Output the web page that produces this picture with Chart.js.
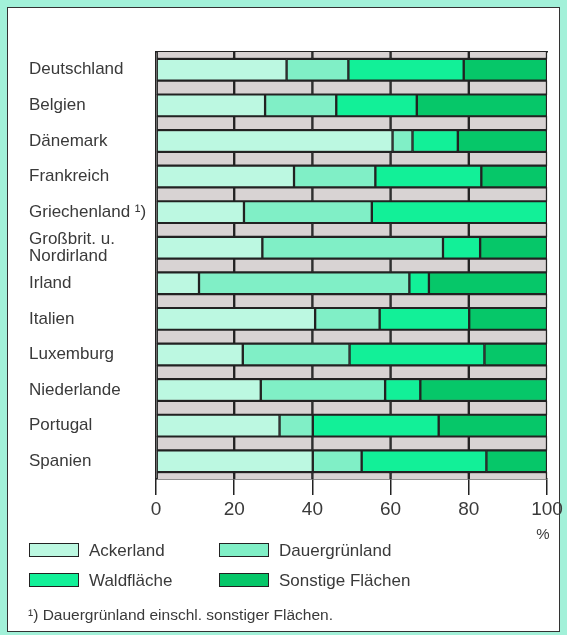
<!DOCTYPE html>
<html>
<head>
<meta charset="utf-8">
<script src="https://cdn.jsdelivr.net/npm/chart.js@4.4.1/dist/chart.umd.min.js"></script>
<style>
    body {
        margin: 0;
        width: 567px;
        height: 635px;
        overflow: hidden;
        background: #a2f1d9;
        font-family: "Liberation Sans", Arial, sans-serif;
        color: #3a3a3a;
    }
    #panel {
        position: absolute;
        left: 7px;
        top: 7px;
        width: 551px;
        height: 623px;
        background: #fff;
        border: 1.5px solid #333;
    }
    #wrap {
        position: absolute;
        left: 0;
        top: 0;
        width: 567px;
        height: 635px;
    }
    .item {
        position: absolute;
        font-size: 17px;
        line-height: 16px;
        white-space: nowrap;
    }
    .item span {
        position: absolute;
        left: 0;
        top: 0;
        width: 48px;
        height: 12px;
        border: 1.5px solid #222;
    }
    .item b {
        position: absolute;
        left: 60px;
        top: 0;
        font-weight: normal;
    }
    #note {
        position: absolute;
        left: 28px;
        top: 606px;
        font-size: 15.5px;
        white-space: nowrap;
    }
</style>
</head>
<body>
<div id="panel"></div>
<div id="wrap"><canvas id="landChart"></canvas></div>
<div id="legend"></div>
<div id="note">¹) Dauergrünland einschl. sonstiger Flächen.</div>
<script>
const countries = ['Deutschland', 'Belgien', 'Dänemark', 'Frankreich', 'Griechenland ¹)',
    ['Großbrit. u.', 'Nordirland'], 'Irland', 'Italien', 'Luxemburg', 'Niederlande', 'Portugal', 'Spanien'];
const ackerland = [33.4, 27.9, 60.5, 35.3, 22.5, 27.2, 11.0, 40.7, 22.2, 26.8, 31.6, 40.1];
const dauergruenland = [15.8, 18.2, 5.1, 20.8, 32.7, 46.2, 53.8, 16.5, 27.3, 31.8, 8.5, 12.5];
const waldflaeche = [29.5, 20.6, 11.6, 27.1, 44.8, 9.5, 5.0, 22.9, 34.5, 9.0, 32.2, 31.9];
const sonstige = [21.3, 33.3, 22.8, 16.8, 0, 17.1, 30.2, 19.9, 16.0, 32.4, 27.7, 15.5];
const seriesNames = ['Ackerland', 'Dauergrünland', 'Waldfläche', 'Sonstige Flächen'];
const seriesColors = ['#bcf8e1', '#80efc6', '#12f098', '#06c769'];
const xTicks = [0, 20, 40, 60, 80, 100];
// grey strips between the rows, cut in steps of 20
const stripSegments = [20, 20, 20, 20, 20];
const stripRows = countries.map((c, i) => i).concat([countries.length]);

document.addEventListener('DOMContentLoaded', function() {
    createLandChart();
    createLegend();
});

function createLandChart() {
    const ctx = document.getElementById('landChart').getContext('2d');
    const values = [ackerland, dauergruenland, waldflaeche, sonstige];

    const stripSets = stripSegments.map(function(seg) {
        return {
            data: stripRows.map(() => seg),
            yAxisID: 'y2',
            xAxisID: 'x',
            grouped: false,
            backgroundColor: '#d8d3d3',
            borderColor: '#222',
            borderWidth: 1.5,
            borderSkipped: false,
            barThickness: 14,
            clip: { left: 3, right: 3, top: 0, bottom: 0 }
        };
    });

    const landSets = values.map(function(vals, i) {
        return {
            label: seriesNames[i],
            data: vals,
            yAxisID: 'y',
            xAxisID: 'x',
            grouped: false,
            backgroundColor: seriesColors[i],
            borderColor: '#222',
            borderWidth: 1.5,
            borderSkipped: false,
            barThickness: 22
        };
    });

    const percentSign = {
        id: 'percentSign',
        afterDraw(chart) {
            const x = chart.scales.x;
            const c = chart.ctx;
            c.save();
            c.font = '15px "Liberation Sans", Arial, sans-serif';
            c.fillStyle = '#3a3a3a';
            c.textAlign = 'center';
            c.textBaseline = 'middle';
            c.fillText('%', x.getPixelForValue(100) - 4, x.top + 56);
            c.restore();
        }
    };

    new Chart(ctx, {
        type: 'bar',
        data: {
            labels: countries,
            datasets: stripSets.concat(landSets)
        },
        options: {
            indexAxis: 'y',
            responsive: true,
            maintainAspectRatio: false,
            animation: false,
            layout: {
                padding: { left: 29, right: 20, top: 52, bottom: 106 }
            },
            plugins: {
                legend: { display: false },
                tooltip: { enabled: false }
            },
            scales: {
                x: {
                    stacked: true,
                    min: 0,
                    max: 100,
                    afterBuildTicks: function(scale) {
                        scale.ticks = xTicks.map(v => ({ value: v }));
                    },
                    afterFit: function(scale) { scale.height = 50; },
                    grid: {
                        drawOnChartArea: false,
                        tickLength: 16,
                        color: '#222',
                        lineWidth: 1.5
                    },
                    border: { color: '#222', width: 1.5 },
                    ticks: {
                        color: '#3a3a3a',
                        padding: 3,
                        font: { family: '"Liberation Sans", Arial, sans-serif', size: 19 }
                    }
                },
                xTop: {
                    type: 'linear',
                    position: 'top',
                    min: 0,
                    max: 100,
                    afterFit: function(scale) { scale.height = 0; },
                    grid: { display: false },
                    ticks: { display: false },
                    border: { color: '#222', width: 1.5 }
                },
                y: {
                    stacked: true,
                    offset: true,
                    afterFit: function(scale) { scale.width = 127; },
                    grid: { display: false },
                    border: { color: '#222', width: 1.5 },
                    ticks: {
                        autoSkip: false,
                        crossAlign: 'far',
                        color: '#3a3a3a',
                        font: { family: '"Liberation Sans", Arial, sans-serif', size: 17, lineHeight: 1 }
                    }
                },
                y2: {
                    type: 'category',
                    labels: stripRows,
                    stacked: true,
                    offset: false,
                    display: false
                }
            }
        },
        plugins: [percentSign]
    });
}

function createLegend() {
    const box = document.getElementById('legend');
    seriesNames.forEach(function(name, i) {
        const item = document.createElement('div');
        item.className = 'item';
        item.style.left = (i % 2 === 0 ? 29 : 219) + 'px';
        item.style.top = (543 + Math.floor(i / 2) * 29.5) + 'px';
        item.innerHTML = '<span style="background:' + seriesColors[i] + '"></span><b>' + name + '</b>';
        box.appendChild(item);
    });
}
</script>
</body>
</html>
